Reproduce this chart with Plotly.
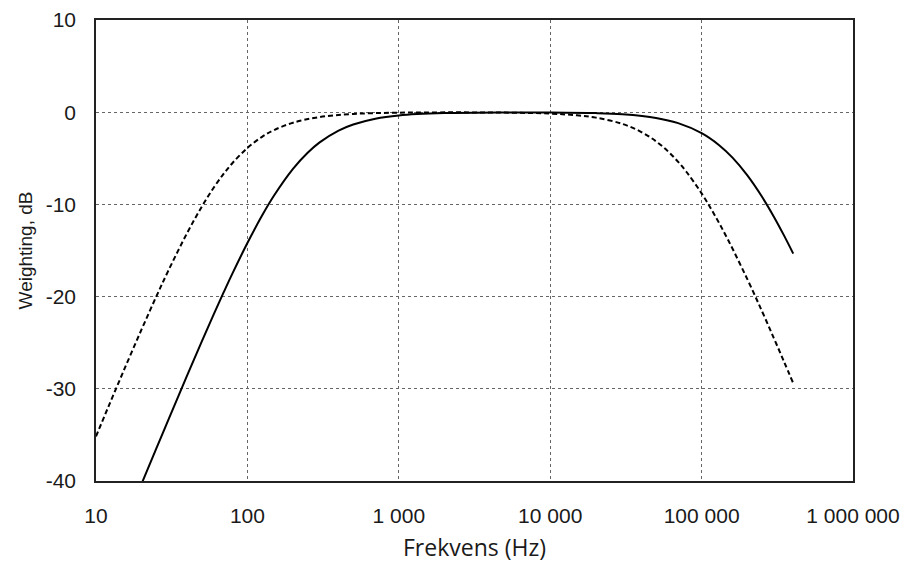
import plotly.graph_objects as go

# Solid curve (frequency Hz, weighting dB)
solid_f = [20, 25, 30, 40, 50, 60, 70, 80, 100, 125, 150, 200, 250, 300, 400, 500, 700,
           1000, 2000, 5000, 10000, 20000, 30000, 50000, 70000, 100000, 130000, 160000,
           200000, 250000, 300000, 350000, 403000]
solid_db = [-40.3, -36.5, -33.4, -28.55, -24.85, -21.9, -19.47, -17.43, -14.19, -11.21, -9.04,
            -6.15, -4.4, -3.27, -1.99, -1.33, -0.7, -0.35, -0.1, -0.02, -0.03, -0.1, -0.23,
            -0.62, -1.19, -2.27, -3.55, -4.93, -6.83, -9.15, -11.33, -13.36, -15.34]

# Dashed curve
dash_f = [10, 12, 15, 20, 25, 30, 40, 50, 60, 70, 80, 100, 125, 150, 200, 300, 500, 1000,
          3000, 5000, 10000, 15000, 20000, 30000, 40000, 50000, 60000, 70000, 80000, 100000,
          120000, 150000, 200000, 250000, 300000, 350000, 403000]
dash_db = [-35.16, -32.05, -28.3, -23.56, -20.0, -17.21, -13.1, -10.24, -8.17, -6.64, -5.48,
           -3.88, -2.67, -1.94, -1.14, -0.53, -0.19, -0.05, -0.02, -0.04, -0.15, -0.34, -0.59,
           -1.27, -2.15, -3.16, -4.25, -5.39, -6.54, -8.8, -10.95, -13.89, -18.08, -21.55,
           -24.5, -27.04, -29.39]

x_ticks = [10, 100, 1000, 10000, 100000, 1000000]
x_labels = ["10", "100", "1 000", "10 000", "100 000", "1 000 000"]
y_ticks = [-40, -30, -20, -10, 0, 10]
y_labels = ["-40", "-30", "-20", "-10", "0", "10"]
x_title = "Frekvens (Hz)"
y_title = "Weighting, dB"

fig = go.Figure()
fig.add_trace(go.Scatter(x=dash_f, y=dash_db, mode="lines", line_shape="spline",
                         line=dict(color="black", width=2, dash="5px,3px")))
fig.add_trace(go.Scatter(x=solid_f, y=solid_db, mode="lines", line_shape="spline",
                         line=dict(color="black", width=2)))

fig.update_layout(
    width=904, height=562,
    margin=dict(l=96, r=51, t=20, b=81),
    paper_bgcolor="white", plot_bgcolor="white",
    showlegend=False,
    font=dict(family="Liberation Sans, Arial", size=21, color="#1a1a1a"),
    annotations=[dict(text=x_title, xref="paper", yref="paper", x=0.5, y=-0.143,
                      xanchor="center", yanchor="middle", showarrow=False,
                      font=dict(family="Open Sans", size=23, color="#1a1a1a"))],
)
fig.update_xaxes(
    type="log", range=[1, 6], automargin=False,
    tickvals=x_ticks, ticktext=x_labels,
    showgrid=True, gridcolor="#666", griddash="dot", gridwidth=1,
    showline=True, linecolor="#222", linewidth=1.5, mirror=True,
    ticks="", zeroline=False, ticklabelstandoff=15,
)
fig.update_yaxes(
    range=[-40, 10], tickvals=y_ticks, ticktext=y_labels, automargin=False,
    showgrid=True, gridcolor="#666", griddash="dot", gridwidth=1,
    showline=True, linecolor="#222", linewidth=1.5, mirror=True,
    ticks="", zeroline=False, ticklabelstandoff=14,
    title=dict(text=y_title, font=dict(family="Liberation Sans, Arial", size=19, color="#1a1a1a"), standoff=8),
)

fig.write_html("out.html")
